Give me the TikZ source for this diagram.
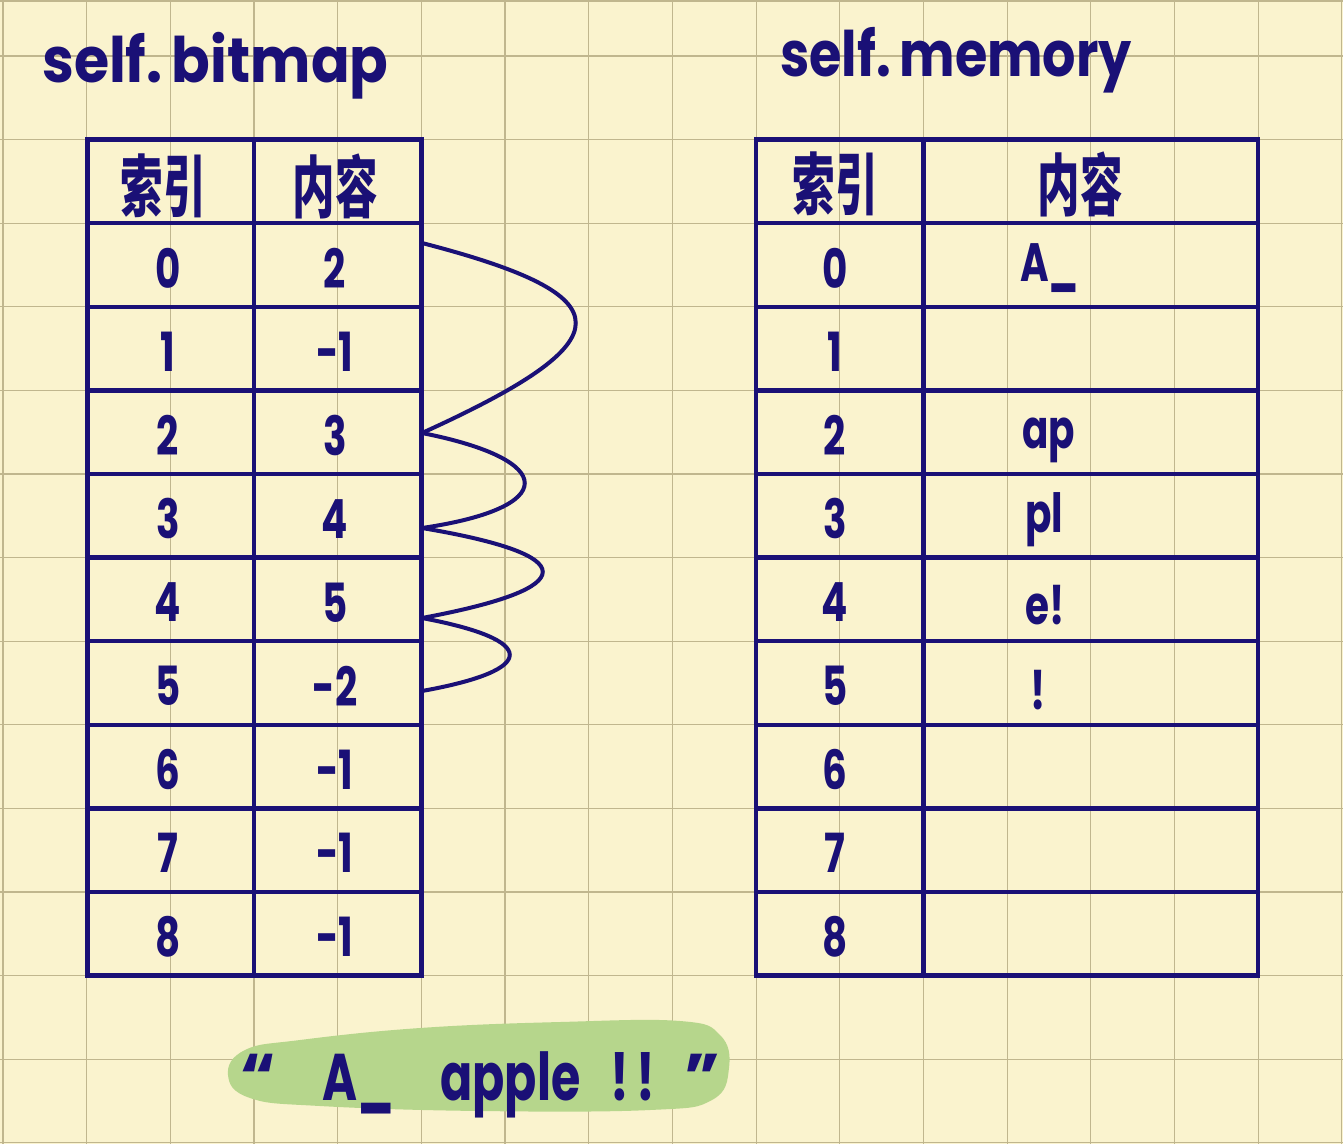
\documentclass[tikz,border=0pt]{standalone}
\usepackage{fontspec}
\setmainfont{Poppins}
\newfontfamily\cjk{Noto Sans CJK SC}
\definecolor{ink}{RGB}{26,16,118}
\definecolor{paper}{RGB}{250,243,206}
\definecolor{gridc}{RGB}{192,182,142}
\definecolor{hl}{RGB}{182,214,140}
\tikzset{
  gridline/.style={draw=gridc,line width=1.2pt},
  tab/.style={draw=ink,line width=4.5pt,line cap=rect},
  link/.style={draw=ink,line width=4pt},
  title/.style={text=ink,inner sep=0pt,anchor=base west,font=\fontsize{57}{57}\selectfont\bfseries},
  hdr/.style={text=ink,inner sep=0pt,font=\cjk\fontsize{50}{50}\selectfont\bfseries},
  num/.style={text=ink,inner sep=0pt,font=\fontsize{54}{54}\selectfont\bfseries},
  cont/.style={text=ink,inner sep=0pt,anchor=west,font=\fontsize{54}{54}\selectfont\bfseries},
  big/.style={text=ink,inner sep=0pt,anchor=base west,font=\fontsize{66}{66}\selectfont\bfseries}
}
\newcommand{\tall}[1]{\scalebox{0.85}[1.35]{#1}}
\newcommand{\narrow}[1]{\scalebox{0.72}[1]{#1}}
\begin{document}
\begin{tikzpicture}[x=1pt,y=-1pt]
\useasboundingbox (0,0) rectangle (1343,1144);
\fill[paper] (0,0) rectangle (1343,1144);
% paper grid
\foreach \i in {0,...,16} \draw[gridline] ({3+83.68*\i},0) -- ({3+83.68*\i},1144);
\foreach \j in {0,...,13} \draw[gridline] (0,{56+83.6*\j}) -- (1343,{56+83.6*\j});
\draw[gridline] (0,1) -- (1343,1);
% highlight
\fill[hl] plot[smooth cycle,tension=0.7] coordinates {(228,1075) (245,1050) (300,1040) (420,1028) (560,1022) (680,1021) (720,1035) (729,1068) (712,1100) (650,1110) (480,1111) (320,1106) (250,1098)};
% titles
\node[title] (t1) at (42,82) {\scalebox{1.0}[1.1]{self.\,bitmap}};
\node[title] (t2) at (780,76) {\scalebox{0.92}[1.1]{self.\,memory}};
% tables
\draw[tab] (87.7,139.6) rectangle (421.4,975.6);
\draw[tab] (254,139.6) -- (254,975.6);
\foreach \j in {2,...,10} \draw[tab] (87.7,{56+83.6*\j}) -- (421.4,{56+83.6*\j});
\draw[tab] (756,139.6) rectangle (1258.2,975.6);
\draw[tab] (923.5,139.6) -- (923.5,975.6);
\foreach \j in {2,...,10} \draw[tab] (756,{56+83.6*\j}) -- (1258.2,{56+83.6*\j});
% headers
\node[hdr] (bh1) at (163,186) {\tall{索引}};
\node[hdr] (bh2) at (335,186) {\tall{内容}};
\node[hdr] (mh1) at (835,184) {\tall{索引}};
\node[hdr] (mh2) at (1080,184) {\tall{内容}};
% bitmap rows
\foreach \v [count=\i from 0] in {2,-1,3,4,5,-2,-1,-1,-1} {
  \node[num] (bi\i) at (168,{268+83.6*\i}) {\narrow{\i}};
  \node[num] (bc\i) at (335,{268+83.6*\i}) {\narrow{\v}};
}
% memory rows
\foreach \i in {0,...,8} \node[num] (mi\i) at (835,{268+83.6*\i}) {\narrow{\i}};
\node[cont] (mc0) at (1020,268) {\narrow{A\_}};
\node[cont] (mc2) at (1022,440) {\narrow{ap}};
\node[cont] (mc3) at (1025,520) {\narrow{pl}};
\node[cont] (mc4) at (1025,605) {\narrow{e!}};
\node[cont] (mc5) at (1030,690) {\narrow{!}};
% linked list curves
\coordinate (p0) at (422,243);
\coordinate (p1) at (422,433);
\coordinate (p2) at (422,528);
\coordinate (p3) at (422,618);
\coordinate (p4) at (422,691);
\draw[link] (p0) .. controls (627,296) and (627,340) .. (p1);
\draw[link] (p1) .. controls (559,460) and (559,508) .. (p2);
\draw[link] (p2) .. controls (583,555) and (583,588) .. (p3);
\draw[link] (p3) .. controls (539,640) and (539,670) .. (p4);
% the string
\node[big] (s0) at (240,1100) {“};
\node[big] (s1) at (322,1100) {\narrow{A\_}};
\node[big] (s2) at (440,1100) {\narrow{apple}};
\node[big] (s3) at (610,1100) {\narrow{!\,!}};
\node[big] (s4) at (684,1100) {”};
\end{tikzpicture}
\end{document}
